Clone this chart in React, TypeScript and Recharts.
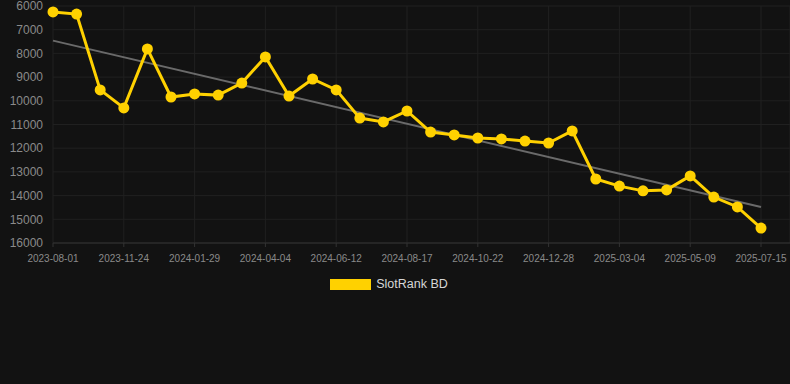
import React from "react";
import {
  LineChart,
  Line,
  XAxis,
  YAxis,
  CartesianGrid,
  Legend,
  ReferenceLine,
} from "recharts";

const dates = [
  "2023-08-01", "2023-10-11", "2023-11-02", "2023-11-24", "2023-12-16",
  "2024-01-07", "2024-01-29", "2024-02-20", "2024-03-13", "2024-04-04",
  "2024-04-27", "2024-05-20", "2024-06-12", "2024-07-04", "2024-07-26",
  "2024-08-17", "2024-09-08", "2024-09-30", "2024-10-22", "2024-11-13",
  "2024-12-06", "2024-12-28", "2025-01-19", "2025-02-10", "2025-03-04",
  "2025-03-26", "2025-04-17", "2025-05-09", "2025-05-31", "2025-06-22",
  "2025-07-15",
];

const ranks = [
  6250, 6340, 9540, 10300, 7810, 9840, 9710, 9760, 9250, 8150,
  9800, 9080, 9540, 10730, 10890, 10430, 11320, 11440, 11570, 11610,
  11700, 11780, 11270, 13300, 13600, 13800, 13760, 13170, 14060, 14480,
  15370,
];

// trend line ends
const trendStart = 7460;
const trendEnd = 14480;

const yTicks = [6000, 7000, 8000, 9000, 10000, 11000, 12000, 13000, 14000, 15000, 16000];

const data = dates.map((date, i) => ({ date, rank: ranks[i] }));

const GOLD = "#FFD100";
const FONT = "Arial, 'Liberation Sans', sans-serif";

function LegendBox() {
  return (
    <div
      style={{
        display: "flex",
        justifyContent: "center",
        alignItems: "center",
        height: 30,
        paddingRight: 12,
        fontFamily: FONT,
        fontSize: 12.5,
        color: "#d6d6d6",
      }}
    >
      <span
        style={{
          display: "inline-block",
          width: 41,
          height: 11,
          background: GOLD,
          marginRight: 5,
        }}
      />
      SlotRank BD
    </div>
  );
}

export default function App() {
  return (
    <div
      style={{
        position: "absolute",
        left: 0,
        top: 0,
        width: 790,
        height: 384,
        background: "#121212",
      }}
    >
      <LineChart
        width={790}
        height={384}
        data={data}
        margin={{ top: 6, right: 0, left: 0, bottom: 85 }}
      >
        <CartesianGrid stroke="#202020" vertical horizontal />
        <XAxis
          dataKey="date"
          interval={2}
          height={26}
          padding={{ left: 0, right: 29 }}
          tick={{ fontSize: 10, fill: "#8a8a8a", fontFamily: FONT }}
          axisLine={{ stroke: "#333" }}
          tickLine={{ stroke: "#333" }}
          tickSize={4}
          tickMargin={8}
        />
        <YAxis
          reversed
          domain={[6000, 16000]}
          ticks={yTicks}
          interval={0}
          width={53}
          tick={{ fontSize: 12, fill: "#8a8a8a", fontFamily: FONT }}
          axisLine={false}
          tickLine={false}
          tickMargin={4}
        />
        <ReferenceLine
          segment={[
            { x: dates[0], y: trendStart },
            { x: dates[dates.length - 1], y: trendEnd },
          ]}
          stroke="#6a6a6a"
          strokeWidth={2}
          ifOverflow="visible"
        />
        <Line
          type="linear"
          dataKey="rank"
          name="SlotRank BD"
          stroke={GOLD}
          strokeWidth={3}
          dot={{ r: 5.5, fill: GOLD, stroke: GOLD, strokeWidth: 0 }}
          activeDot={false}
          isAnimationActive={false}
        />
        <Legend verticalAlign="bottom" height={30} content={() => <LegendBox />} />
      </LineChart>
    </div>
  );
}
